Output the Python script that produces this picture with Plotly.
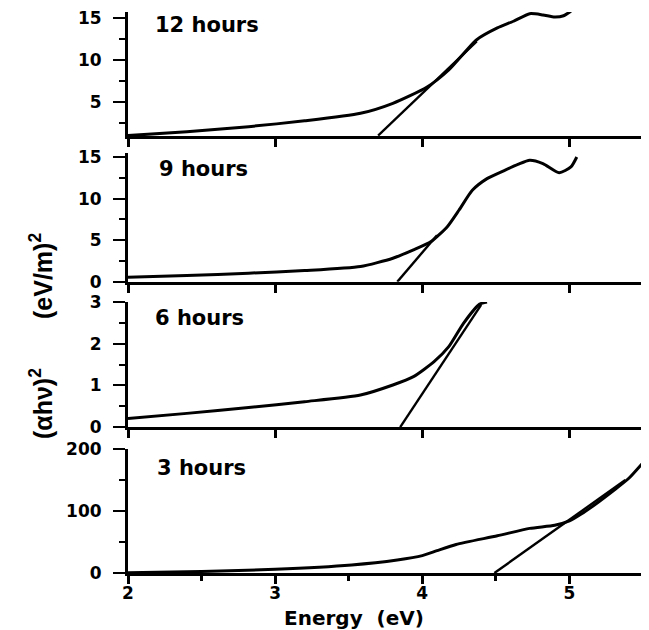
import plotly.graph_objects as go

# ---------------- data ----------------
labels = ["12 hours", "9 hours", "6 hours", "3 hours"]

energy_12h = [2.0, 2.4, 2.82, 3.2, 3.58, 3.8, 4.03, 4.18, 4.37, 4.51, 4.62, 4.73, 4.82, 4.90, 4.96, 5.01]
ahv_12h = [1.0, 1.45, 2.06, 2.75, 3.65, 4.84, 6.75, 8.8, 12.4, 13.8, 14.6, 15.5, 15.35, 15.1, 15.25, 15.8]
tan_x_12h = [3.70, 4.37]
tan_y_12h = [1.0, 12.2]

energy_9h = [2.0, 2.4, 2.82, 3.2, 3.58, 3.80, 3.94, 4.06, 4.17, 4.25, 4.34, 4.44, 4.56, 4.65, 4.73, 4.82, 4.93, 5.01, 5.05]
ahv_9h = [0.55, 0.75, 1.04, 1.35, 1.84, 2.84, 3.84, 4.84, 6.63, 8.63, 11.0, 12.4, 13.4, 14.1, 14.6, 14.2, 13.1, 13.8, 15.0]
tan_x_9h = [3.83, 4.10]
tan_y_9h = [0.0, 5.6]

energy_6h = [2.0, 2.4, 2.82, 3.2, 3.58, 3.80, 3.94, 4.08, 4.18, 4.28, 4.39, 4.44]
ahv_6h = [0.21, 0.33, 0.47, 0.61, 0.77, 1.01, 1.21, 1.57, 1.93, 2.49, 2.95, 3.0]
tan_x_6h = [3.85, 4.40]
tan_y_6h = [0.0, 2.93]

energy_3h = [2.0, 2.5, 3.0, 3.52, 3.83, 4.0, 4.1, 4.23, 4.51, 4.73, 4.9, 5.0, 5.08, 5.2, 5.3, 5.4, 5.5]
ahv_3h = [0.5, 2.5, 6, 13, 21, 28, 36, 46, 60, 72, 77, 84, 95, 115, 133, 152, 178]
tan_x_3h = [4.49, 5.38]
tan_y_3h = [0.0, 150.0]

y_ranges = [[0.95, 15.7], [0, 15.5], [0, 3], [0, 200]]
y_ticks = [[5, 10, 15], [0, 5, 10, 15], [0, 1, 2, 3], [0, 100, 200]]
y_minor = [2.5, 2.5, 0.5, 50]
x_ticks = [2, 3, 4, 5]

# ---------------- figure ----------------
series = [
    (energy_12h, ahv_12h, tan_x_12h, tan_y_12h),
    (energy_9h, ahv_9h, tan_x_9h, tan_y_9h),
    (energy_6h, ahv_6h, tan_x_6h, tan_y_6h),
    (energy_3h, ahv_3h, tan_x_3h, tan_y_3h),
]
domains = [[0.779, 1.0], [0.519, 0.749], [0.260, 0.483], [0.0, 0.221]]

FONT = "DejaVu Sans, Liberation Sans, sans-serif"
TFONT = "Liberation Sans, Arial, sans-serif"

# page coords -> paper coords (plot area: x 128..643, y 12..573 on the page)
def px(xp):
    return (xp - 128) / 515.0

def py(yp):
    return (573 - yp) / 561.0

fig = go.Figure()
layout = dict(
    width=641, height=622,
    margin=dict(l=120, r=6, t=4, b=57, autoexpand=False),
    paper_bgcolor="white", plot_bgcolor="white",
    showlegend=False,
    font=dict(family=FONT, color="black"),
)

for i, (ex, ey, tx, ty) in enumerate(series):
    n = i + 1
    xa = "x" if n == 1 else f"x{n}"
    ya = "y" if n == 1 else f"y{n}"
    fig.add_trace(go.Scatter(x=ex, y=ey, mode="lines",
                             line=dict(color="black", width=3, shape="spline", smoothing=0.6),
                             xaxis=xa, yaxis=ya, hoverinfo="skip"))
    fig.add_trace(go.Scatter(x=tx, y=ty, mode="lines", line=dict(color="black", width=2.4),
                             xaxis=xa, yaxis=ya, hoverinfo="skip"))
    bottom = (n == 4)
    xdict = dict(
        domain=[0, 1], range=[2, 5.5], anchor=ya, automargin=False,
        showline=True, linecolor="black", linewidth=2.5,
        showgrid=False, zeroline=False,
        ticks="outside", ticklen=8, tickwidth=2.5, tickcolor="black",
        tickvals=x_ticks, showticklabels=bottom,
        tickfont=dict(family=FONT, size=17, color="black", weight="bold"),
        ticklabeloverflow="allow",
    )
    if bottom:
        xdict["minor"] = dict(ticks="outside", ticklen=5, tickwidth=2.5, tickcolor="black",
                              dtick=0.5, showgrid=False)
        xdict["ticklabelstandoff"] = -5
    ydict = dict(
        domain=domains[i], range=y_ranges[i], anchor=xa, automargin=False,
        showline=True, linecolor="black", linewidth=3,
        showgrid=False, zeroline=False,
        ticks="outside", ticklen=12, tickwidth=2, tickcolor="black",
        tickvals=y_ticks[i], ticklabelstandoff=8, ticklabeloverflow="allow",
        minor=dict(ticks="outside", ticklen=6, tickwidth=2, tickcolor="black",
                   dtick=y_minor[i], showgrid=False),
        tickfont=dict(family=FONT, size=17, color="black", weight="bold"),
    )
    layout["xaxis" if n == 1 else f"xaxis{n}"] = xdict
    layout["yaxis" if n == 1 else f"yaxis{n}"] = ydict

fig.update_layout(**layout)

label_x = [153, 157, 153, 155]
label_y = [25, 169, 318, 468]
for lab, lx, ly in zip(labels, label_x, label_y):
    fig.add_annotation(text=lab, xref="paper", yref="paper",
                       x=px(lx), y=py(ly), xanchor="left", yanchor="middle", showarrow=False,
                       font=dict(family=FONT, size=21, color="black", weight="bold"))

# y-axis title (two parts, rotated)
fig.add_annotation(text="(eV/m)<sup>2</sup>", xref="paper", yref="paper",
                   x=px(41), y=py(276), textangle=-90,
                   xanchor="center", yanchor="middle", showarrow=False,
                   font=dict(family=TFONT, size=25, color="black", weight="bold"))
fig.add_annotation(text="(αhν)<sup>2</sup>", xref="paper", yref="paper",
                   x=px(41), y=py(404), textangle=-90,
                   xanchor="center", yanchor="middle", showarrow=False,
                   font=dict(family=TFONT, size=25, color="black", weight="bold"))

# x-axis title
fig.add_annotation(text="Energy  (eV)", xref="paper", yref="paper",
                   x=px(354), y=py(618), xanchor="center", yanchor="middle", showarrow=False,
                   font=dict(family=FONT, size=20, color="black", weight="bold"))

fig.write_html("out.html")
